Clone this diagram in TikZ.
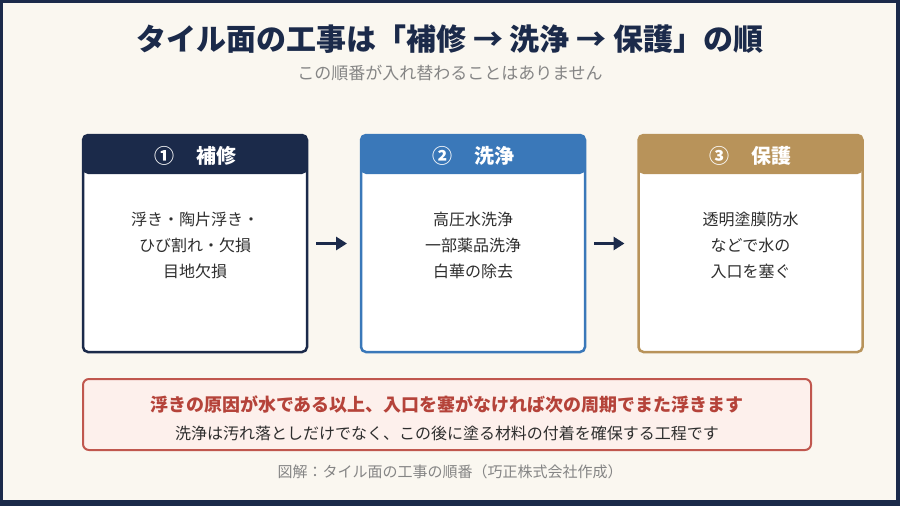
\documentclass[tikz,border=0pt]{standalone}
\usepackage{fontspec}
\setmainfont{Noto Sans CJK JP}
\usetikzlibrary{arrows.meta,positioning}
\definecolor{navy}{HTML}{1B2A4A}
\definecolor{creme}{HTML}{FAF7F0}
\definecolor{blau}{HTML}{3A78B9}
\definecolor{gold}{HTML}{B8935A}
\definecolor{rotrand}{HTML}{C0574E}
\definecolor{rosa}{HTML}{FDF0EC}
\definecolor{rottext}{HTML}{B5433A}
\definecolor{grau}{HTML}{858585}
\definecolor{text}{HTML}{2E2E2E}
\newcommand{\fs}[2]{\fontsize{#1}{#2}\selectfont}

\begin{document}
\begin{tikzpicture}[x=1pt, y=-1pt,
  kasten/.style={draw=#1, line width=2.5pt, fill=white, rounded corners=5pt,
                 outer sep=0pt, minimum width=224pt, minimum height=217pt,
                 path picture={\fill[#1] (path picture bounding box.north west)
                   rectangle ([yshift=-39pt]path picture bounding box.north east);}},
  kopf/.style={font=\fs{20}{24}\bfseries, text=white},
  inhalt/.style={font=\fs{16}{26}, text=text, align=center},
  pfeil/.style={-{Triangle[length=11pt,width=13pt]}, navy, line width=3.5pt,
                shorten <=9pt, shorten >=14pt}
]
% Rahmen und Hintergrund
\fill[navy] (0,0) rectangle (900,506);
\fill[creme] (3,3) rectangle (896,500);
\useasboundingbox (0,0) rectangle (900,506);

% Titel
\node[font=\fs{30}{36}\bfseries, text=navy] (titel) at (450,39)
  {タイル面の工事は「補修 → 洗浄 → 保護」の順};
\node[font=\fs{17}{20}, text=grau] (untertitel) at (450,73)
  {この順番が入れ替わることはありません};

% Schritte
\node[kasten=navy] (b1) at (195,243.5) {};
\node[kasten=blau] (b2) at (473,243.5) {};
\node[kasten=gold] (b3) at (750.5,243.5) {};

\node[kopf] (k1) at (195,156) {①\hspace{1.1em}補修};
\node[kopf] (k2) at (473,156) {②\hspace{1.1em}洗浄};
\node[kopf] (k3) at (750.5,156) {③\hspace{1.1em}保護};

\node[inhalt] (t1) at (195,245) {浮き・陶片浮き・\\ひび割れ・欠損\\目地欠損};
\node[inhalt] (t2) at (473,245) {高圧水洗浄\\一部薬品洗浄\\白華の除去};
\node[inhalt] (t3) at (750.5,245) {透明塗膜防水\\などで水の\\入口を塞ぐ};

\draw[pfeil] (b1) -- (b2);
\draw[pfeil] (b2) -- (b3);

% Hinweis
\node[draw=rotrand, fill=rosa, line width=2pt, rounded corners=6pt,
      minimum width=728pt, minimum height=71pt] (hinweis) at (447,414.5) {};
\node[font=\fs{18}{22}\bfseries, text=rottext] (h1) at (447,404)
  {浮きの原因が水である以上、入口を塞がなければ次の周期でまた浮きます};
\node[font=\fs{16}{20}, text=text] (h2) at (447,433)
  {洗浄は汚れ落としだけでなく、この後に塗る材料の付着を確保する工程です};

% Quelle
\node[font=\fs{15}{18}, text=grau] (quelle) at (450,472)
  {図解：タイル面の工事の順番（巧正株式会社作成）};
\end{tikzpicture}
\end{document}
